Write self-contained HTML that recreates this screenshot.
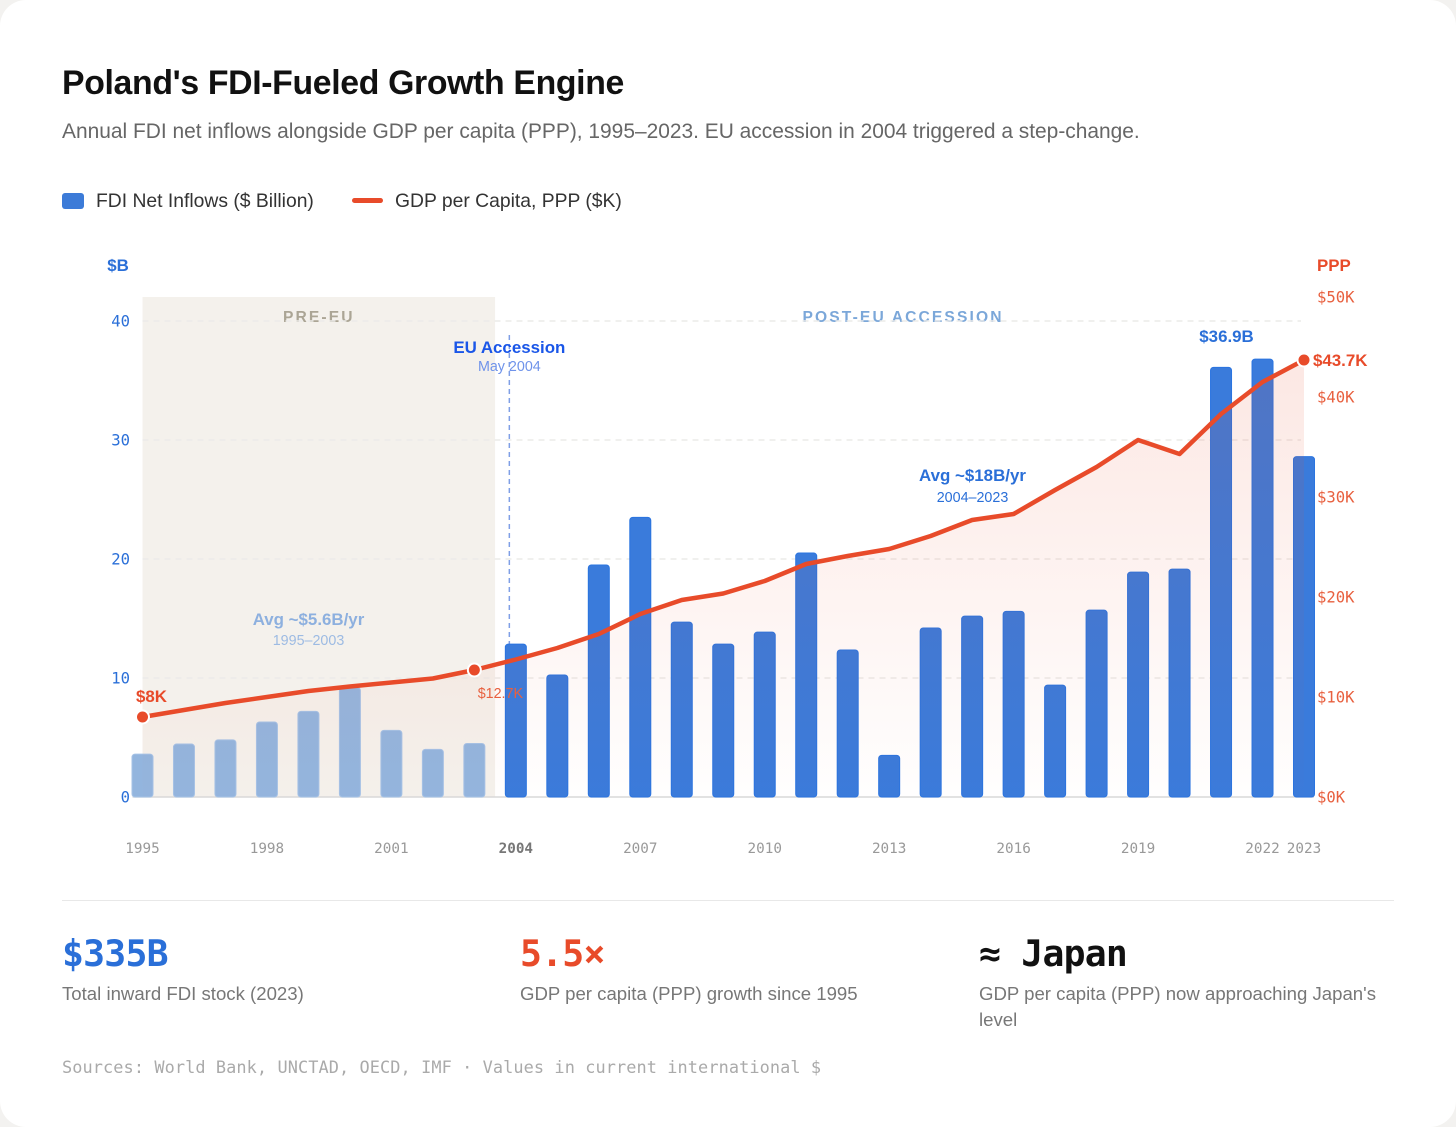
<!DOCTYPE html>
<html lang="en">
<head>
<meta charset="utf-8">
<title>Poland's FDI-Fueled Growth Engine</title>
<style>
html,body{margin:0;padding:0;width:1456px;height:1127px;overflow:hidden;background:#f3f2f0;}
#card{position:absolute;left:0;top:0;width:1456px;height:1127px;background:#fff;border-radius:26px;overflow:hidden;font-family:"Liberation Sans",sans-serif;}
.t{position:absolute;white-space:nowrap;margin:0;}
#title{left:62px;top:62px;font-size:33.8px;line-height:42px;font-weight:700;color:#111;letter-spacing:-0.34px;}
#subtitle{left:62px;top:118.5px;font-size:20.93px;line-height:26px;color:#666;}
.legend-text{top:189px;font-size:19.32px;line-height:26px;color:#333;}
#swatch-bar{position:absolute;left:62px;top:193px;width:22px;height:16px;border-radius:3px;background:#3c7bd8;}
#swatch-line{position:absolute;left:352px;top:198px;width:31px;height:5px;border-radius:3px;background:#e84b2a;}
#chart{position:absolute;left:0;top:0;}
#divider{position:absolute;left:62px;top:900px;width:1332px;height:1px;background:#e8e8e8;}
.stat-value{top:932px;font-family:"DejaVu Sans Mono",monospace;font-weight:700;font-size:36.4px;line-height:44px;letter-spacing:-0.76px;}
.stat-label{font-size:18.6px;line-height:26px;color:#777;}
#sources{left:62px;top:1056px;font-family:"DejaVu Sans Mono",monospace;font-size:16.9px;line-height:22px;color:#aaa;letter-spacing:0.09px;}
svg text{font-family:"Liberation Sans",sans-serif;}
svg text.mono{font-family:"DejaVu Sans Mono",monospace;}
</style>
</head>
<body>
<div id="card">
  <h1 class="t" id="title">Poland's FDI-Fueled Growth Engine</h1>
  <p class="t" id="subtitle">Annual FDI net inflows alongside GDP per capita (PPP), 1995–2023. EU accession in 2004 triggered a step-change.</p>

  <div id="swatch-bar"></div>
  <div class="t legend-text" style="left:96px">FDI Net Inflows ($ Billion)</div>
  <div id="swatch-line"></div>
  <div class="t legend-text" style="left:395px">GDP per Capita, PPP ($K)</div>

  <svg id="chart" width="1456" height="1127" viewBox="0 0 1456 1127" xmlns="http://www.w3.org/2000/svg">
    <defs>
      <linearGradient id="areaGrad" gradientUnits="userSpaceOnUse" x1="0" y1="360" x2="0" y2="797">
        <stop offset="0" stop-color="#e84b2a" stop-opacity="0.13"/>
        <stop offset="1" stop-color="#e84b2a" stop-opacity="0.005"/>
      </linearGradient>
    </defs>
    <rect id="preBand" fill="#f4f1ec"/>
    <text id="preLabel" y="322" text-anchor="middle" font-size="15.6" font-weight="700" letter-spacing="2.13" fill="#aba595">PRE-EU</text>
    <text id="postLabel" y="322" text-anchor="middle" font-size="15.6" font-weight="700" letter-spacing="2.13" fill="#7ba7d9">POST-EU ACCESSION</text>
    <g id="grid"></g>
    <g id="leftAxis"></g>
    <g id="rightAxis"></g>
    <g id="xAxis"></g>
    <text x="118" y="271" text-anchor="middle" font-size="16.9" font-weight="700" fill="#2a6fd8">$B</text>
    <text x="1317" y="271" font-size="16.9" font-weight="700" fill="#e84b2a">PPP</text>
    <line id="euLine" y1="335" stroke="#7f9fe6" stroke-width="1.5" stroke-dasharray="5 4"/>
    <text id="euLabel" y="353" text-anchor="middle" font-size="16.9" font-weight="700" fill="#1a56e8">EU Accession</text>
    <text id="euSub" y="371" text-anchor="middle" font-size="14.3" fill="#6f93ea">May 2004</text>
    <text x="308.5" y="625" text-anchor="middle" font-size="16.9" font-weight="700" fill="#8db0df">Avg ~$5.6B/yr</text>
    <text x="308.5" y="645" text-anchor="middle" font-size="14.3" fill="#9dbbe3">1995–2003</text>
    <text x="972.5" y="481" text-anchor="middle" font-size="16.9" font-weight="700" fill="#2a6fd8">Avg ~$18B/yr</text>
    <text x="972.5" y="502" text-anchor="middle" font-size="14.3" fill="#2a6fd8">2004–2023</text>
    <g id="bars"></g>
    <path id="area" fill="url(#areaGrad)"></path>
    <path id="line" fill="none" stroke="#e84b2a" stroke-width="4.5" stroke-linejoin="round" stroke-linecap="round"></path>
    <g id="points"></g>
    <text id="labelStart" text-anchor="middle" font-size="16.9" font-weight="700" fill="#e84b2a"></text>
    <text id="labelMid" text-anchor="middle" font-size="14.3" fill="#e8603f"></text>
    <text id="labelEnd" font-size="16.9" font-weight="700" fill="#e84b2a"></text>
    <text id="labelPeak" text-anchor="middle" font-size="16.9" font-weight="700" fill="#2a6fd8"></text>
  </svg>

  <div id="divider"></div>

  <div class="t stat-value" style="left:62px;color:#2a6fd8">$335B</div>
  <div class="t stat-label" style="left:62px;top:981px">Total inward FDI stock (2023)</div>
  <div class="t stat-value" style="left:520px;color:#e84b2a">5.5×</div>
  <div class="t stat-label" style="left:520px;top:981px">GDP per capita (PPP) growth since 1995</div>
  <div class="t stat-value" style="left:979px;color:#111">≈ Japan</div>
  <div class="t stat-label" style="left:979px;top:981px">GDP per capita (PPP) now approaching Japan's<br>level</div>

  <div class="t" id="sources">Sources: World Bank, UNCTAD, OECD, IMF · Values in current international $</div>
</div>

<script>
const years = [1995,1996,1997,1998,1999,2000,2001,2002,2003,2004,2005,2006,2007,2008,2009,2010,2011,2012,2013,2014,2015,2016,2017,2018,2019,2020,2021,2022,2023];
const fdiValues = [3.6,4.45,4.8,6.3,7.2,9.2,5.6,4.0,4.5,12.85,10.25,19.5,23.5,14.7,12.85,13.85,20.5,12.35,3.5,14.2,15.2,15.6,9.4,15.7,18.9,19.15,36.1,36.8,28.6];
const gdpValues = [8.0,8.7,9.4,10.0,10.6,11.05,11.45,11.85,12.7,13.75,14.9,16.3,18.3,19.7,20.35,21.6,23.3,24.1,24.8,26.1,27.7,28.3,30.7,33.0,35.7,34.3,38.3,41.5,43.7];
const leftTicks = [0,10,20,30,40];
const rightTicks = [0,10,20,30,40,50];
const xTickYears = [1995,1998,2001,2004,2007,2010,2013,2016,2019,2022,2023];
const highlightYears = [1995,2003,2023];
const accessionYear = 2004;
const peakLabel = "$36.9B";

const SVGNS = "http://www.w3.org/2000/svg";
const baseY = 797;
function xAt(i){ return 142.5 + (1304 - 142.5) * i / (years.length - 1); }
function yLeft(v){ return baseY - v * 476 / 40; }
function yRight(v){ return baseY - v * 500 / 50; }
function make(tag, attrs, parent, text){
  const el = document.createElementNS(SVGNS, tag);
  for (const k in attrs) el.setAttribute(k, attrs[k]);
  if (text !== undefined) el.textContent = text;
  parent.appendChild(el);
  return el;
}
const idxOf = y => years.indexOf(y);
const accIdx = idxOf(accessionYear);
const step = xAt(1) - xAt(0);
const bandEnd = xAt(accIdx) - step / 2;

const band = document.getElementById('preBand');
band.setAttribute('x', xAt(0));
band.setAttribute('y', 297);
band.setAttribute('width', bandEnd - xAt(0));
band.setAttribute('height', baseY - 297);
document.getElementById('preLabel').setAttribute('x', (xAt(0) + bandEnd) / 2);
document.getElementById('postLabel').setAttribute('x', (bandEnd + xAt(years.length - 1)) / 2 + 3.5);

const euX = xAt(accIdx) - 6.5;
const euLine = document.getElementById('euLine');
euLine.setAttribute('x1', euX);
euLine.setAttribute('x2', euX);
euLine.setAttribute('y2', baseY);
document.getElementById('euLabel').setAttribute('x', euX);
document.getElementById('euSub').setAttribute('x', euX);

const grid = document.getElementById('grid');
leftTicks.forEach(function(t){
  if (t === 0) return;
  const g = make('line', {x1:xAt(0), x2:xAt(years.length-1)-3, y1:yLeft(t), y2:yLeft(t), stroke:'#ecebe9', 'stroke-width':1.5, 'stroke-dasharray':'6 5'}, grid);
  
  
});
const baseLine = make('line', {x1:xAt(0)-10, x2:xAt(years.length-1)+10, y1:baseY, y2:baseY, stroke:'#d9d9d9', 'stroke-width':1.5}, grid);



const leftAxis = document.getElementById('leftAxis');
leftTicks.forEach(function(t){
  const el = make('text', {x:130, y:yLeft(t)+5.5, 'text-anchor':'end', 'font-size':15.6, fill:'#2a6fd8', class:'mono'}, leftAxis, String(t));
  
  
});
const rightAxis = document.getElementById('rightAxis');
rightTicks.forEach(function(t){
  const el = make('text', {x:1317, y:yRight(t)+5.5, 'font-size':15.6, fill:'#e8603f', class:'mono'}, rightAxis, '$' + t + 'K');
  
  
});
const xAxis = document.getElementById('xAxis');
xTickYears.forEach(function(y){
  const strong = y === accessionYear;
  const el = make('text', {x:xAt(idxOf(y)), y:853, 'text-anchor':'middle', 'font-size':14.3, fill: strong ? '#777' : '#999', 'font-weight': strong ? 700 : 400, class:'mono'}, xAxis, String(y));
  
  
});

const bars = document.getElementById('bars');
years.forEach(function(y, i){
  const top = yLeft(fdiValues[i]);
  const pre = y < accessionYear;
  const b = make('rect', {x:xAt(i)-10.5, y:top, width:21, height:Math.max(baseY-top,0), rx:3, fill: pre ? '#93b5de' : '#3a7bdb', stroke: pre ? '#a5c2e6' : '#2a74e0', 'stroke-width':1}, bars);
  
  
});

const linePts = gdpValues.map(function(v, i){ return xAt(i).toFixed(2) + ' ' + yRight(v).toFixed(2); });
document.getElementById('line').setAttribute('d', 'M' + linePts.join(' L'));
document.getElementById('area').setAttribute('d', 'M' + xAt(0) + ' ' + baseY + ' L' + linePts.join(' L') + ' L' + xAt(years.length-1) + ' ' + baseY + ' Z');

const points = document.getElementById('points');
highlightYears.forEach(function(y){
  const i = idxOf(y);
  const c = make('circle', {cx:xAt(i), cy:yRight(gdpValues[i]), r:6.5, fill:'#e84b2a', stroke:'#fff', 'stroke-width':2}, points);
  
  
});

function fmtK(v){ return '$' + (Number.isInteger(v) ? v : v.toFixed(1)) + 'K'; }
const first = gdpValues[0], mid = gdpValues[idxOf(2003)], last = gdpValues[gdpValues.length-1];
const ls = document.getElementById('labelStart');
ls.setAttribute('x', xAt(0) + 9);
ls.setAttribute('y', yRight(first) - 15);
ls.textContent = fmtK(first);
const lm = document.getElementById('labelMid');
lm.setAttribute('x', xAt(idxOf(2003)) + 26);
lm.setAttribute('y', yRight(mid) + 28);
lm.textContent = fmtK(mid);
const le = document.getElementById('labelEnd');
le.setAttribute('x', xAt(years.length-1) + 9);
le.setAttribute('y', yRight(last) + 6);
le.textContent = fmtK(last);
const lp = document.getElementById('labelPeak');
lp.setAttribute('x', xAt(idxOf(2022)) - 36);
lp.setAttribute('y', yLeft(fdiValues[idxOf(2022)]) - 17);
lp.textContent = peakLabel;
</script>
</body>
</html>
